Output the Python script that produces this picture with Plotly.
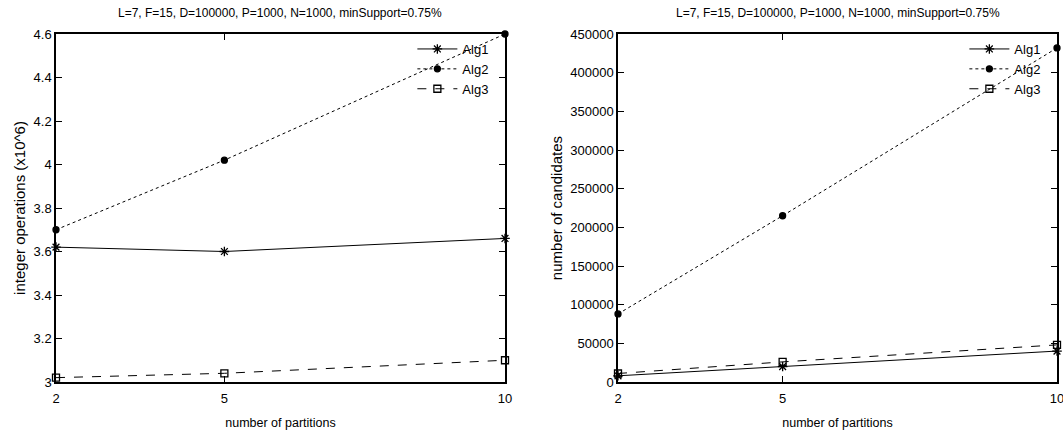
import plotly.graph_objects as go

partitions = [2, 5, 10]
title_text = "L=7, F=15, D=100000, P=1000, N=1000, minSupport=0.75%"

# left chart: integer operations (x10^6)
ops_alg1 = [3.62, 3.60, 3.66]
ops_alg2 = [3.70, 4.02, 4.60]
ops_alg3 = [3.02, 3.04, 3.10]

# right chart: number of candidates
cand_alg1 = [8000, 20000, 40000]
cand_alg2 = [88000, 215000, 432000]
cand_alg3 = [11000, 26000, 48000]

names = ["Alg1", "Alg2", "Alg3"]
styles = [
    dict(dash="solid", symbol="asterisk-open", size=8),
    dict(dash="dot", symbol="circle", size=6),
    dict(dash="dash", symbol="square-open", size=7),
]

fig = go.Figure()

def add_series(vals, xa, ya, legend):
    for name, v, st in zip(names, vals, styles):
        fig.add_trace(go.Scatter(
            x=partitions, y=v, name=name, mode="lines+markers",
            xaxis=xa, yaxis=ya, legend=legend, cliponaxis=False,
            line=dict(color="black", width=1, dash=st["dash"]),
            marker=dict(color="black", symbol=st["symbol"], size=st["size"],
                        line=dict(color="black", width=1.3)),
        ))

add_series([ops_alg1, ops_alg2, ops_alg3], "x", "y", "legend")
add_series([cand_alg1, cand_alg2, cand_alg3], "x2", "y2", "legend2")

FAM = "Liberation Sans, Arial, sans-serif"
font = dict(family=FAM, size=12, color="black")
tickfont = dict(family=FAM, size=13, color="black")
xtitle_font = dict(family=FAM, size=12.5, color="black")
ytitle_font = dict(family=FAM, size=15, color="black")

axis_common = dict(
    showline=True, linecolor="black", linewidth=1.5, mirror="ticks",
    ticks="inside", ticklen=6, tickwidth=1.2, tickcolor="black",
    showgrid=False, zeroline=False, tickfont=tickfont, automargin=False,
    ticklabeloverflow="allow",
)

L0, L1 = 56 / 1063, 505 / 1063
R0, R1 = 618 / 1063, 1057 / 1063

fig.update_layout(
    width=1063, height=430,
    margin=dict(l=0, r=0, t=34, b=48, autoexpand=False),
    paper_bgcolor="white", plot_bgcolor="white",
    font=font,
    xaxis=dict(domain=[L0, L1], range=[2, 10], tickvals=partitions,
               ticklabelstandoff=4,
               title=dict(text="number of partitions", font=xtitle_font, standoff=14),
               **axis_common),
    yaxis=dict(range=[3, 4.6], dtick=0.2, tickformat="~g",
               title=dict(text="integer operations (x10^6)", font=ytitle_font, standoff=4),
               **axis_common),
    xaxis2=dict(domain=[R0, R1], range=[2, 10], tickvals=partitions, anchor="y2",
                ticklabelstandoff=4,
                title=dict(text="number of partitions", font=xtitle_font, standoff=14),
                **axis_common),
    yaxis2=dict(range=[0, 450000], dtick=50000, anchor="x2", tickformat="d",
                title=dict(text="number of candidates", font=ytitle_font, standoff=4),
                **axis_common),
    legend=dict(x=L1 - 0.01, xanchor="right", y=1.0, yanchor="top",
                bgcolor="rgba(0,0,0,0)", font=tickfont, tracegroupgap=0,
                itemwidth=40),
    legend2=dict(x=R1 - 0.01, xanchor="right", y=1.0, yanchor="top",
                 bgcolor="rgba(0,0,0,0)", font=tickfont, tracegroupgap=0,
                 itemwidth=40),
    annotations=[
        dict(text=title_text, x=(L0 + L1) / 2, y=1, xref="paper", yref="paper",
             xanchor="center", yanchor="bottom", yshift=12, showarrow=False, font=font),
        dict(text=title_text, x=(R0 + R1) / 2, y=1, xref="paper", yref="paper",
             xanchor="center", yanchor="bottom", yshift=12, showarrow=False, font=font),
    ],
)

fig.write_html("out.html", config={"displayModeBar": False},
               post_script="document.body.style.margin='0';")
